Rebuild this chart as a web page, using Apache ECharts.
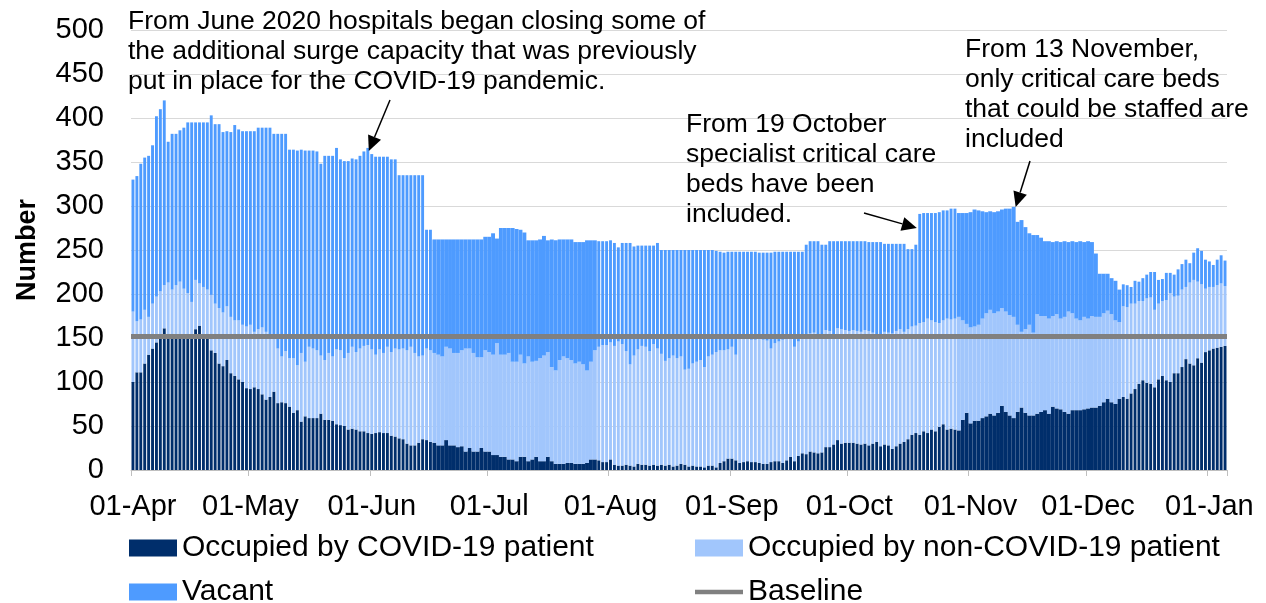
<!DOCTYPE html>
<html><head><meta charset="utf-8">
<script src="https://cdn.jsdelivr.net/npm/echarts@6/dist/echarts.min.js"></script>
<style>html,body{margin:0;padding:0;background:#fff}#c{width:1266px;height:603px}</style>
</head><body><div id="c"></div>
<script>
// ---- data (daily, 1 April 2020 .. 5 January 2021) ----
const firstDay = [2020, 3, 1];
const dayCount = 280;
const monthTicks = ['01-Apr','01-May','01-Jun','01-Jul','01-Aug','01-Sep','01-Oct','01-Nov','01-Dec','01-Jan'];
const covid = [
100,111,111,121,131,138,145,152,161,151,151,150,151,150,151,152,160,164,150,150,136,133,121,118,125,110,107,103,100,93,92,94,92,86,80,83,89,76,77,76,72,65,68,55,61,59,59,
59,64,57,57,56,52,51,50,46,47,46,44,44,42,41,42,43,42,42,39,38,36,35,30,28,28,31,35,34,32,
31,28,28,34,28,28,26,27,21,25,21,21,25,21,21,17,17,15,15,12,12,10,15,15,10,12,15,10,10,15,10,7,7,7,8,8,7,7,7,8,12,12,
11,9,9,12,6,5,5,6,5,4,7,6,6,5,6,5,6,5,6,4,5,7,6,4,5,4,4,3,5,5,3,8,10,13,13,11,8,9,10,9,9,8,7,7,9,10,10,8,11,15,10,16,19,18,21,20,19,20,26,26,29,34,30,31,31,31,
30,29,30,28,30,32,27,29,28,24,27,30,32,35,40,42,
40,44,42,46,44,49,52,46,47,46,
45,57,65,53,56,56,59,61,64,62,65,73,66,62,59,66,71,65,62,62,
64,66,68,64,72,70,69,66,64,68,68,68,69,70,71,71,73,77,81,77,75,81,
83,81,87,92,98,102,99,98,94,103,107,102,100,110,110,117,126,121,119,127,122,134,136,138,139,140,141];
const nonCovid = [
80,58,60,61,43,51,52,51,49,62,54,60,63,56,50,39,56,48,58,55,63,56,63,61,61,64,63,67,65,70,73,63,68,76,77,70,63,62,52,59,55,62,51,78,62,81,79,
77,66,68,76,73,85,85,77,87,93,88,94,97,100,96,89,94,91,98,95,100,101,103,106,112,105,98,95,104,104,
102,103,101,106,110,105,107,109,117,113,112,107,103,115,113,114,127,116,116,121,111,113,116,106,119,111,109,117,120,119,107,106,118,122,119,117,114,116,113,105,111,124,
129,133,133,133,135,141,138,129,115,126,130,135,134,130,137,133,126,119,121,126,122,122,108,111,116,119,121,114,124,126,131,128,126,124,127,120,141,141,139,139,139,141,141,140,129,134,136,140,140,136,130,130,132,135,134,136,132,132,133,132,125,127,130,128,127,128,
128,128,129,130,126,120,127,128,128,131,131,130,125,125,123,122,
127,124,130,124,124,118,118,126,124,126,
129,113,101,109,107,109,113,117,118,116,115,111,114,114,115,99,86,95,103,94,
113,109,107,108,103,107,103,108,116,110,104,102,105,102,104,103,101,101,100,100,95,87,
103,104,102,97,94,90,96,98,88,86,85,91,101,87,88,88,82,92,97,87,89,72,72,70,71,72,68];
const vacant = [
150,165,177,173,183,180,205,207,210,160,177,172,172,183,194,204,179,183,187,190,204,204,209,205,199,210,222,217,220,222,220,228,229,227,232,236,230,244,253,247,237,237,244,231,240,223,225,
226,218,232,224,228,229,217,224,218,214,219,219,221,224,222,225,219,223,216,219,215,198,197,199,195,202,206,205,135,137,
129,131,133,122,124,129,129,126,124,124,129,134,134,129,131,138,119,144,144,142,152,151,142,149,132,138,137,135,136,127,145,148,137,133,135,137,138,136,139,148,138,125,
120,118,118,116,117,107,115,123,138,124,118,114,115,120,112,120,118,126,123,120,123,121,136,135,129,127,125,133,121,119,115,112,111,111,108,117,99,98,99,100,100,98,99,100,109,104,102,100,97,97,108,102,97,103,105,104,109,104,97,102,106,99,100,101,102,101,
102,103,101,101,103,107,105,100,101,102,99,97,100,91,88,92,
124,124,120,122,124,126,125,123,126,125,
118,122,126,131,133,130,122,115,112,115,114,112,117,121,125,117,127,116,104,111,
90,89,85,88,84,83,87,86,79,82,87,90,85,88,84,72,49,45,42,41,45,37,
25,25,19,26,22,26,27,29,43,27,25,31,23,25,30,29,31,22,31,38,38,33,29,25,29,32,29];
const baselineValue = 152;
// days drawn as one solid block (no gap between bars) in the source chart
const solidRanges = [[77,118],[211,252]];

// ---- build ----
const MON = ['Jan','Feb','Mar','Apr','May','Jun','Jul','Aug','Sep','Oct','Nov','Dec'];
const categories = [];
for (let i = 0; i < dayCount; i++) {
  const dt = new Date(Date.UTC(firstDay[0], firstDay[1], firstDay[2] + i));
  categories.push(String(dt.getUTCDate()).padStart(2,'0') + '-' + MON[dt.getUTCMonth()]);
}
const isSolid = i => solidRanges.some(r => i >= r[0] && i <= r[1]);
const pick = (arr, solid) => arr.map((v, i) => (isSolid(i) === solid ? v : null));

const C_COVID = '#002e6b', C_NON = '#a1c6fc', C_VAC = '#4e9bff', C_BASE = '#808080';
const FONT = 'Liberation Sans, Arial, sans-serif';
const NAMES = ['Occupied by COVID-19 patient','Occupied by non-COVID-19 patient','Vacant','Baseline'];

function barSeries(solid) {
  const ax = solid ? 0 : 1;
  const st = solid ? 'solid' : 'gapped';
  const common = {type:'bar', xAxisIndex:ax, yAxisIndex:0, stack:st, barCategoryGap: solid ? '0%' : '26%', animation:false};
  return [
    Object.assign({name:NAMES[0], data:pick(covid, solid), itemStyle:{color:C_COVID}}, common),
    Object.assign({name:NAMES[1], data:pick(nonCovid, solid), itemStyle:{color:C_NON}}, common),
    Object.assign({name:NAMES[2], data:pick(vacant, solid), itemStyle:{color:C_VAC}}, common)
  ];
}

function oneLegend(name, icon, left, centerY) {
  return {left:left, top:centerY - 15, orient:'horizontal', itemWidth:48, itemHeight:17, itemGap:5,
    symbolKeepAspect:true, selectedMode:false,
    data:[{name:name, icon:icon}],
    textStyle:{fontSize:30, color:'#000', fontFamily:FONT, lineHeight:30}};
}

const chart = echarts.init(document.getElementById('c'), null, {renderer:'canvas'});
const xBase = {type:'category', data:categories, boundaryGap:true};
chart.setOption({
  animation:false,
  backgroundColor:'#fff',
  textStyle:{fontFamily:FONT},
  grid:{left:131, right:39, top:30, bottom:133, containLabel:false},
  xAxis:[
    Object.assign({}, xBase, {
      axisLine:{lineStyle:{color:'#bfbfbf', width:1}},
      axisTick:{show:true, length:6, lineStyle:{color:'#bfbfbf'}, interval:(i, v) => monthTicks.includes(v)},
      axisLabel:{interval:(i, v) => monthTicks.includes(v), color:'#000', fontSize:29, fontFamily:FONT, margin:22, hideOverlap:false},
      splitLine:{show:false}
    }),
    Object.assign({}, xBase, {show:false, position:'bottom'})
  ],
  yAxis:{
    type:'value', min:0, max:500, interval:50,
    axisLine:{show:false}, axisTick:{show:false},
    axisLabel:{color:'#000', fontSize:29, fontFamily:FONT, margin:27},
    splitLine:{lineStyle:{color:'#d9d9d9', width:1}},
    name:'Number', nameLocation:'middle', nameGap:90,
    nameTextStyle:{fontSize:27, fontWeight:'bold', color:'#000', fontFamily:FONT}
  },
  legend:[
    oneLegend(NAMES[0], 'rect', 124, 543),
    oneLegend(NAMES[1], 'rect', 690, 543),
    oneLegend(NAMES[2], 'rect', 124, 587),
    oneLegend(NAMES[3], 'path://M0,0H96V9H0Z', 690, 587)
  ],
  series:[].concat(barSeries(true), barSeries(false), [{
    name:NAMES[3], type:'line', xAxisIndex:0, yAxisIndex:0, z:10,
    data:[], symbol:'none',
    lineStyle:{color:C_BASE, width:5}, itemStyle:{color:C_BASE}, animation:false,
    markLine:{silent:true, symbol:'none', label:{show:false}, animation:false,
      lineStyle:{color:C_BASE, width:5, type:'solid'},
      data:[{yAxis:baselineValue}]}
  }])
});

// ---- annotations ----
function px(day, val) { return chart.convertToPixel({xAxisIndex:0, yAxisIndex:0}, [day, val]); }
function arrow(x1, y1, x2, y2) {
  const a = Math.atan2(y2 - y1, x2 - x1), L = 15, W = 7;
  const bx = x2 - L * Math.cos(a), by = y2 - L * Math.sin(a);
  const ox = -Math.sin(a) * W, oy = Math.cos(a) * W;
  return [
    {type:'line', shape:{x1:x1, y1:y1, x2:bx, y2:by}, style:{stroke:'#000', lineWidth:1.5}, z:20},
    {type:'polygon', shape:{points:[[x2,y2],[bx+ox,by+oy],[bx-ox,by-oy]]}, style:{fill:'#000'}, z:20}
  ];
}
const noteFont = '26.5px ' + FONT;
function note(x, y, text) {
  return {type:'text', x:x, y:y, z:20, style:{text:text, font:noteFont, fill:'#000', lineHeight:30, verticalAlign:'top', align:'left'}};
}
const t1 = px(60, 366), t2 = px(200, 275), t3 = px(225, 299);
chart.setOption({graphic:[].concat(
  [note(128, 7, 'From June 2020 hospitals began closing some of\nthe additional surge capacity that was previously\nput in place for the COVID-19 pandemic.')],
  arrow(390, 100, t1[0] + 1, t1[1] + 3),
  [note(686, 110, 'From 19 October\nspecialist critical care\nbeds have been\nincluded.')],
  arrow(864, 213, t2[0] + 1, t2[1]),
  [note(965, 35, 'From 13 November,\nonly critical care beds\nthat could be staffed are\nincluded')],
  arrow(1030, 161, t3[0] + 2, t3[1])
)});
</script>
</body></html>
